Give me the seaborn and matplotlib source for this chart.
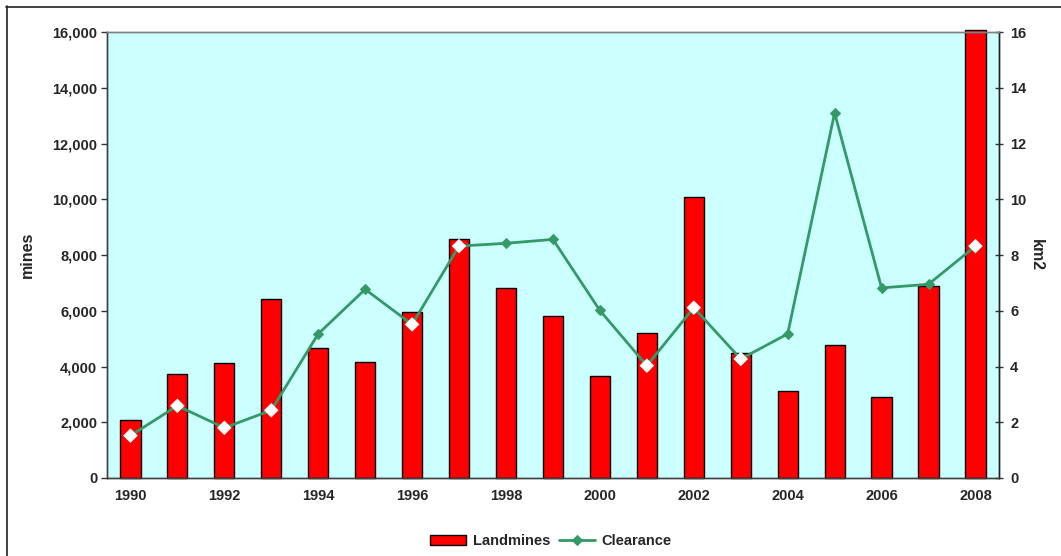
import numpy as np
import pandas as pd
import seaborn as sns
import matplotlib.pyplot as plt
from matplotlib.lines import Line2D
from matplotlib.ticker import FuncFormatter, FixedLocator

# data
years = [1990, 1991, 1992, 1993, 1994, 1995, 1996, 1997, 1998, 1999,
         2000, 2001, 2002, 2003, 2004, 2005, 2006, 2007, 2008]
landmines = [2080, 3730, 4115, 6420, 4675, 4170, 5945, 8580, 6805, 5820,
             3650, 5215, 10070, 4495, 3120, 4770, 2895, 6875, 16080]
clearance = [1.52, 2.59, 1.80, 2.43, 5.17, 6.77, 5.51, 8.32, 8.42, 8.56,
             6.01, 4.03, 6.11, 4.27, 5.17, 13.10, 6.82, 6.95, 8.32]
year_labels = [str(y) if y % 2 == 0 else '' for y in years]

df = pd.DataFrame({'year': [str(y) for y in years], 'landmines': landmines,
                   'clearance': clearance})
df['pos'] = np.arange(len(df))
# markers sitting inside a bar are drawn white in the original
df['inside'] = df['clearance'] * 1000 < df['landmines']

sns.set_style('white')
plt.rcParams['font.family'] = ['Liberation Sans', 'DejaVu Sans']
plt.rcParams['font.weight'] = 'bold'

fig, ax = plt.subplots(figsize=(10.61, 5.56), dpi=100)
fig.subplots_adjust(left=0.1008, right=0.9415, top=0.9424, bottom=0.1403)
ax.set_facecolor('#CCFFFF')

# bars
sns.barplot(data=df, x='year', y='landmines', color='red', saturation=1,
            edgecolor='black', linewidth=1, width=0.43, label='Landmines', ax=ax)
for p in ax.patches:
    p.set_clip_on(False)
ax.set_ylim(0, 16000)
ax.set_xlim(-0.5, len(df) - 0.5)
ax.set_yticks(np.arange(0, 16001, 2000))
ax.yaxis.set_major_formatter(FuncFormatter(lambda v, p: f'{int(v):,}'))
ax.set_xticks(df['pos'])
ax.set_xticklabels(year_labels)
ax.xaxis.set_minor_locator(FixedLocator(np.arange(-0.5, len(df), 1.0)))
ax.tick_params(axis='x', which='major', length=0, pad=8, labelsize=10.5)
ax.tick_params(axis='x', which='minor', length=6, width=1, direction='inout', color='#333333')
ax.tick_params(axis='y', length=4, width=1, direction='out', pad=3, labelsize=10.5,
               color='#333333', left=True)
ax.set_xlabel('')
ax.set_ylabel('mines', fontsize=11.5, fontweight='bold')
ax.yaxis.set_label_coords(-0.081, 0.5)

# line on secondary axis
ax2 = ax.twinx()
sns.lineplot(data=df, x='pos', y='clearance', color='#339966', linewidth=2,
             marker='D', markersize=5, markeredgecolor='#339966',
             label='Clearance', ax=ax2)
sns.scatterplot(data=df[df['inside']], x='pos', y='clearance', marker='D',
                color='white', s=55, edgecolor='none', zorder=5, legend=False, ax=ax2)
ax2.set_ylim(0, 16)
ax2.set_yticks(np.arange(0, 17, 2))
ax2.tick_params(axis='y', length=6, width=1, direction='inout', pad=5, labelsize=10.5,
                color='#333333', right=True)
ax2.set_xlabel('')
ax2.set_ylabel('km2', fontsize=11.5, fontweight='bold', rotation=270)
ax2.yaxis.set_label_coords(1.0505, 0.5)

for a in (ax, ax2):
    a.spines['top'].set_color('#808080')
    a.spines['left'].set_color('#404040')
    a.spines['right'].set_color('#202020')
    a.spines['bottom'].set_color('#404040')
    for s in a.spines.values():
        s.set_linewidth(1)

# legend
h1, l1 = ax.get_legend_handles_labels()
h2, l2 = ax2.get_legend_handles_labels()
for a in (ax, ax2):
    if a.get_legend() is not None:
        a.get_legend().remove()
fig.legend(h1 + h2, l1 + l2, loc='center', bbox_to_anchor=(0.519, 0.0275), ncol=2,
           frameon=False, fontsize=10.5, handlelength=2.5, handletextpad=0.45,
           columnspacing=0.6)

# outer chart frame (left and top edges visible)
fig.add_artist(Line2D([6.5 / 1061, 6.5 / 1061], [0, 1 - 6 / 556], color='#222222', lw=1.2))
fig.add_artist(Line2D([6 / 1061, 1], [1 - 6.5 / 556, 1 - 6.5 / 556], color='#222222', lw=1.2))

fig.savefig('out.png', dpi=100, facecolor='white')
